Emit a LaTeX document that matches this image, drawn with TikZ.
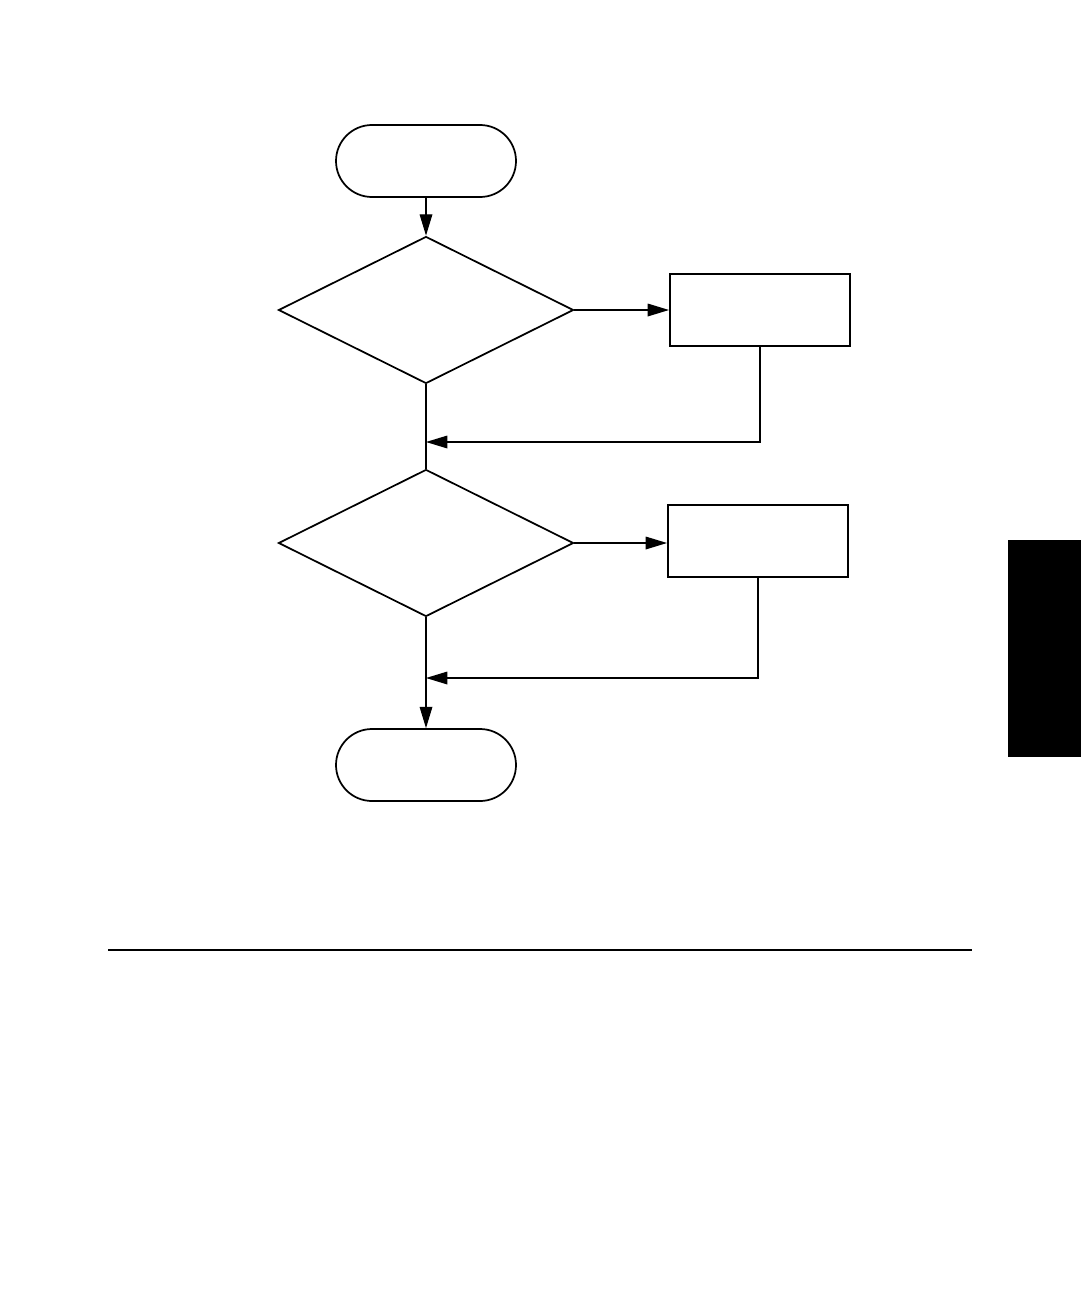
\documentclass[tikz,border=0pt]{standalone}
\usetikzlibrary{shapes.geometric,arrows.meta}
\begin{document}
\begin{tikzpicture}[x=0.75pt,y=-0.75pt,
  terminal/.style={draw,line width=1.3pt,rectangle,rounded corners=27pt,minimum width=135pt,minimum height=54pt,inner sep=0pt},
  decision/.style={draw,line width=1.3pt,diamond,minimum width=221.25pt,minimum height=110.25pt,inner sep=0pt},
  process/.style={draw,line width=1.5pt,rectangle,minimum width=135pt,minimum height=54.5pt,inner sep=0pt},
  conn/.style={line width=0.9pt},
  arr/.style={conn,-{Triangle[length=16pt,width=9.5pt]}}]
\useasboundingbox (0,0) rectangle (1081,1299);
\node[terminal] (start) at (426,161) {};
\node[decision] (d1) at (426,310) {};
\node[process] (p1) at (760,310) {};
\node[decision] (d2) at (426,543) {};
\node[process] (p2) at (758,541) {};
\node[terminal] (stop) at (426,765) {};
\coordinate (j1) at (426,442);
\coordinate (j2) at (426,678);
\draw[arr] (start.south) -- (d1.north);
\draw[arr] (d1.east) -- (d1.east -| p1.west);
\draw[conn] (d1.south) -- (d2.north);
\draw[arr] (p1.south) |- (j1);
\draw[arr] (d2.east) -- (d2.east -| p2.west);
\draw[arr] (d2.south) -- (stop.north);
\draw[arr] (p2.south) |- (j2);
\draw[line width=2.2pt] (108,950) -- (972,950);
\fill (1008,540) rectangle (1081,757);
\end{tikzpicture}
\end{document}
